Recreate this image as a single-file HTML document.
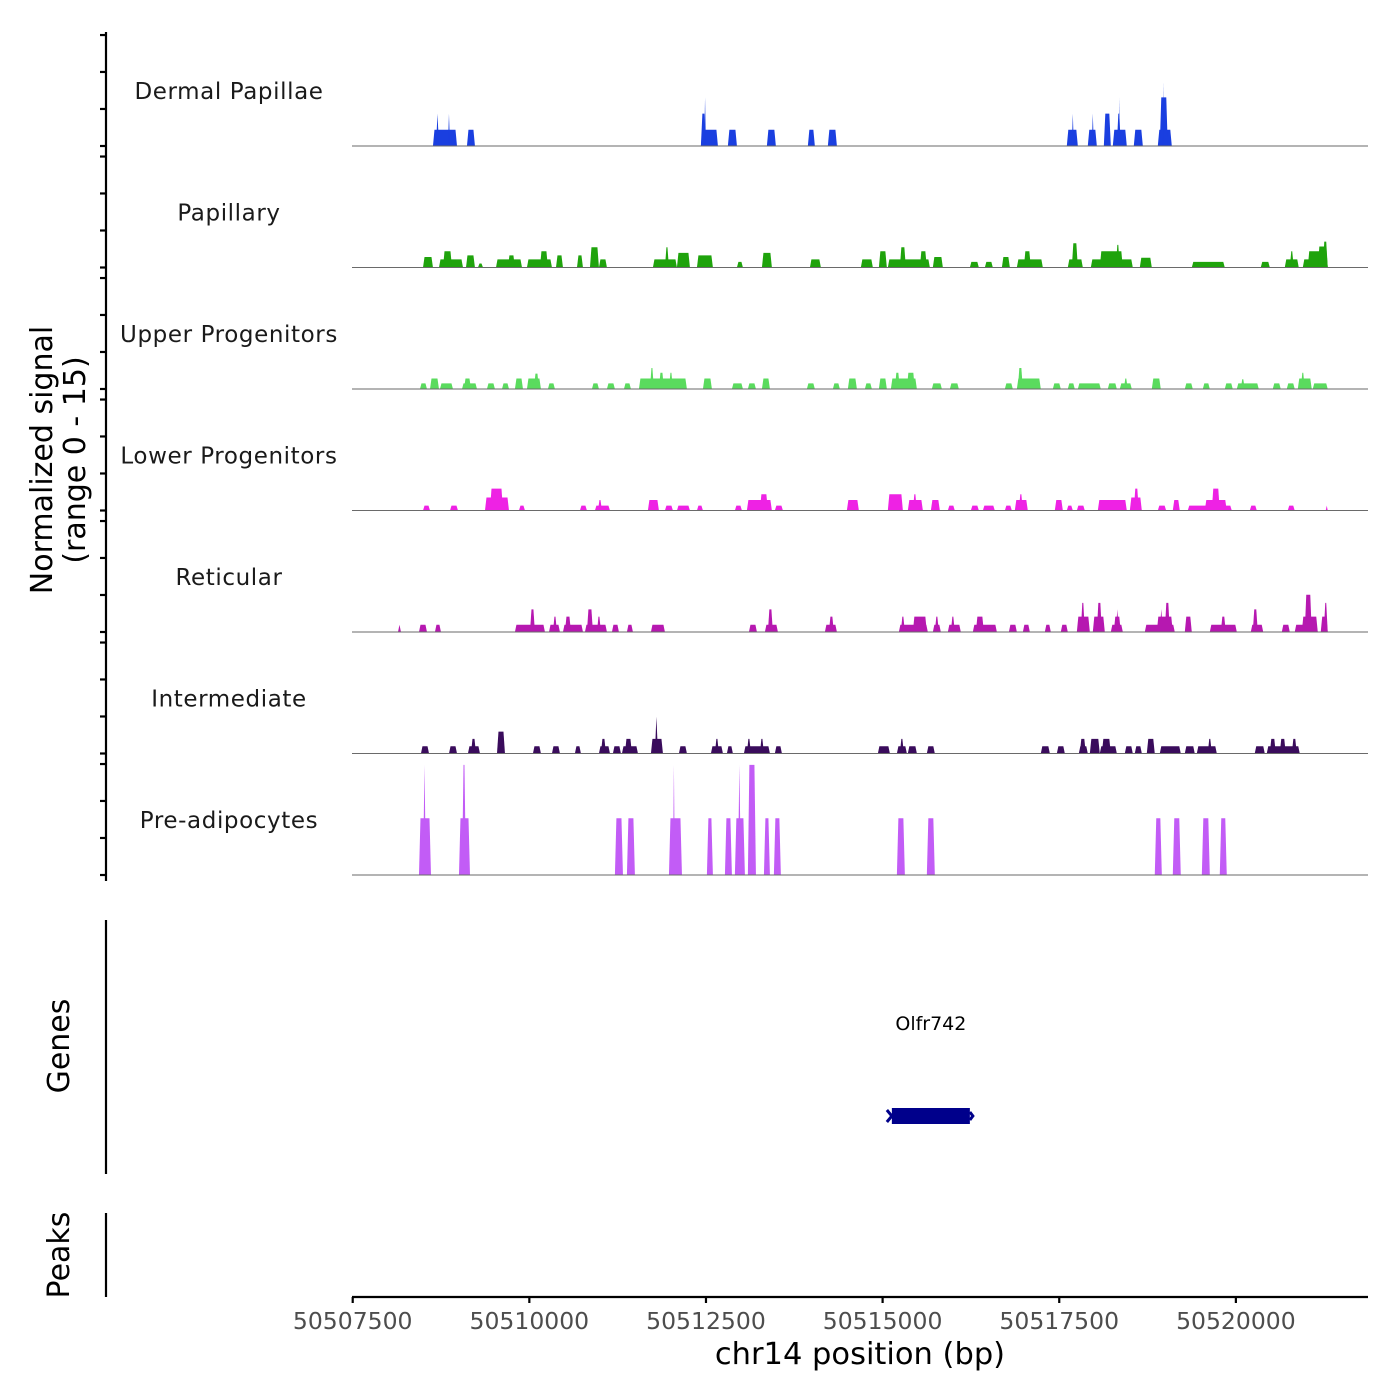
<!DOCTYPE html>
<html><head><meta charset="utf-8"><style>
html,body{margin:0;padding:0;background:#fff;}
svg{display:block;font-family:"DejaVu Sans","Liberation Sans",sans-serif;}
</style></head><body>
<svg id="chart" width="1400" height="1400" viewBox="0 0 1400 1400" xmlns="http://www.w3.org/2000/svg">
<g id="tracks"></g>
<g id="axes"></g>
<g id="genes"></g>
</svg>
<script>
// ---- data: region start (bp) and per-track signal segments [startOffsetBp, endOffsetBp, normalizedSignal]
const regionStart = 50507490;
const regionEnd = 50521870;
const trackNames = ["Dermal Papillae","Papillary","Upper Progenitors","Lower Progenitors","Reticular","Intermediate","Pre-adipocytes"];
const trackColors = ["#1a3fe0","#1fa30c","#5adb5e","#ee22e4","#b618b0","#3a0c5c","#c25cf6"];
const xTickValues = [50507500,50510000,50512500,50515000,50517500,50520000];
const xTickLabels = ["50507500","50510000","50512500","50515000","50517500","50520000"];
const yTickValues = [0,4.57,9.14,13.7];
const geneNames = ["Olfr742"];
const geneStarts = [50515131];
const geneEnds = [50516235];
const signalMax = 15;

const dermalPapillae = [[1146,1486,2],[1189,1231,4],[1358,1387,4],[1627,1740,2],[4938,5179,2],[4938,5009,4],[4985,5009,6],[5320,5448,2],[5872,5999,2],[6452,6551,2],[6735,6863,2],[10117,10273,2],[10188,10216,4],[10414,10542,2],[10471,10499,4],[10641,10740,4],[10768,10966,2],[10825,10881,4],[10853,10867,6],[11065,11193,2],[11405,11603,2],[11433,11546,6],[11476,11490,8]];
const papillary = [[1005,1146,1.3],[1231,1571,1],[1288,1415,2],[1613,1740,1.5],[1783,1854,0.5],[2038,2406,1],[2207,2306,1.5],[2476,2830,1],[2660,2773,2],[2887,2986,1.5],[3184,3269,1.5],[3368,3495,2.5],[3495,3608,1],[4259,4599,1],[4429,4486,2.5],[4599,4783,1.8],[4882,5108,1.5],[5448,5533,0.7],[5802,5943,1.8],[6481,6636,1],[7202,7372,1],[7457,7570,2],[7584,8179,1],[7754,7839,2.5],[8037,8136,2],[8221,8363,1.3],[8745,8872,0.7],[8957,9070,0.7],[9198,9311,1.3],[9410,9778,1],[9509,9608,2],[10131,10344,1],[10188,10273,3],[10457,11051,1],[10584,10910,2],[10811,10867,2.8],[11150,11320,1.2],[11886,12353,0.7],[12862,12990,0.7],[13202,13400,1],[13273,13329,2],[13457,13810,1],[13527,13810,2],[13670,13810,2.6],[13740,13810,3.2]];
const upperProgenitors = [[962,1061,0.7],[1104,1231,1.3],[1245,1429,0.7],[1557,1769,0.7],[1585,1684,1.3],[1910,2023,0.7],[2123,2222,0.7],[2306,2420,1.3],[2476,2674,1.3],[2575,2646,1.9],[2773,2872,0.7],[3396,3495,0.7],[3608,3721,0.7],[3849,3948,0.7],[4061,4740,1.3],[4217,4273,2.6],[4344,4415,2],[4486,4542,2],[4967,5094,1.3],[5377,5533,0.7],[5603,5717,0.7],[5802,5915,1.3],[6438,6551,0.7],[6806,6905,0.7],[7018,7146,1.3],[7259,7358,0.7],[7457,7570,1.3],[7627,7995,1.3],[7683,7754,2],[7853,7966,2],[8207,8349,0.7],[8462,8589,0.7],[9240,9353,0.7],[9410,9749,1.3],[9424,9495,2.6],[9919,10032,0.7],[10131,10230,0.7],[10273,10598,0.7],[10697,10825,0.7],[10867,11037,0.7],[10924,10980,1.3],[11320,11447,1.3],[11787,11900,0.7],[12042,12141,0.7],[12353,12466,0.7],[12523,12834,0.7],[12579,12636,1.2],[13032,13145,0.7],[13230,13343,0.7],[13386,13584,1.3],[13429,13485,2],[13598,13810,0.7]];
const lowerProgenitors = [[1005,1104,0.6],[1387,1500,0.6],[1882,2222,1.6],[1953,2137,2.7],[2363,2448,0.6],[3226,3325,0.6],[3438,3651,0.6],[3481,3538,1.3],[4188,4344,1.3],[4429,4542,0.6],[4599,4783,0.6],[4882,4967,0.6],[5419,5519,0.6],[5589,5943,1.3],[5773,5886,2],[5985,6099,0.6],[7004,7174,1.3],[7584,7797,2],[7867,8080,1.3],[7938,7995,2],[8193,8320,1.3],[8433,8532,0.6],[8759,8872,0.6],[8929,9098,0.6],[9240,9339,0.6],[9381,9565,1.3],[9438,9495,2],[9947,10061,1.3],[10117,10202,0.6],[10259,10372,0.6],[10556,10966,1.3],[11009,11179,1.6],[11065,11136,2.7],[11405,11523,0.6],[11617,11716,1.3],[11829,12452,0.6],[12070,12381,1.3],[12169,12282,2.7],[12707,12806,0.6],[13244,13343,0.6],[13782,13810,0.6]];
const reticular = [[651,693,0.9],[948,1061,0.9],[1174,1259,0.9],[2306,2731,0.9],[2519,2589,2.8],[2788,2943,0.9],[2844,2901,1.9],[2986,3269,0.9],[3014,3099,1.9],[3297,3608,0.9],[3325,3410,2.8],[3467,3523,1.9],[3679,3778,0.9],[3891,3976,0.9],[4231,4429,0.9],[5618,5731,0.9],[5844,6028,0.9],[5886,5957,2.8],[6693,6863,0.9],[6750,6820,1.9],[7740,8150,0.9],[7768,7825,1.9],[7938,8136,1.9],[8221,8334,0.9],[8249,8306,1.9],[8433,8617,0.9],[8476,8532,1.9],[8787,9127,0.9],[8830,8943,1.9],[9297,9410,0.9],[9495,9594,0.9],[9806,9891,0.9],[10032,10131,0.9],[10259,10443,1.9],[10315,10372,3.6],[10485,10655,1.9],[10542,10613,3.6],[10740,10910,0.9],[10782,10881,1.9],[10811,10853,2.8],[11221,11645,0.9],[11391,11617,1.9],[11433,11476,2.8],[11504,11575,3.6],[11787,11886,1.9],[12141,12523,0.9],[12297,12367,1.9],[12721,12897,0.9],[12749,12820,2.8],[13160,13273,0.9],[13343,13669,0.9],[13443,13669,1.9],[13485,13584,4.6],[13711,13810,1.9],[13754,13810,3.6]];
const intermediate = [[976,1090,0.9],[1373,1486,0.9],[1641,1811,0.9],[1684,1755,1.8],[2052,2165,2.7],[2561,2674,0.9],[2830,2943,0.9],[3155,3240,0.9],[3495,3651,0.9],[3523,3594,1.8],[3693,3806,0.9],[3821,4047,0.9],[3863,3962,1.8],[4231,4401,1.8],[4287,4330,4.5],[4627,4740,0.9],[5080,5250,0.9],[5136,5193,1.8],[5306,5391,0.9],[5547,5915,0.9],[5589,5646,1.8],[5773,5830,1.8],[5985,6085,0.9],[7443,7613,0.9],[7712,7853,0.9],[7754,7811,1.8],[7867,7995,0.9],[8136,8249,0.9],[9749,9877,0.9],[9976,10089,0.9],[10287,10414,0.9],[10301,10386,1.8],[10443,10584,1.8],[10584,10825,0.9],[10613,10740,1.8],[10938,11051,0.9],[11079,11179,0.9],[11249,11362,1.8],[11433,11730,0.9],[11787,11928,0.9],[11957,12240,0.9],[12112,12169,1.8],[12777,12919,0.9],[12947,13414,0.9],[12990,13075,1.8],[13131,13216,1.8],[13302,13372,1.8]];
const preAdipocytes = [[948,1118,7],[1005,1047,13.6],[1514,1670,7],[1557,1613,13.6],[3721,3835,7],[3891,4004,7],[4486,4670,7],[4542,4570,13.6],[5023,5108,7],[5278,5377,7],[5419,5561,7],[5462,5504,13.6],[5603,5717,13.6],[5830,5915,7],[5971,6070,7],[7712,7825,7],[8136,8249,7],[11362,11462,7],[11617,11730,7],[12028,12141,7],[12282,12381,7]];
const trackData = [dermalPapillae,papillary,upperProgenitors,lowerProgenitors,reticular,intermediate,preAdipocytes];

// ---- layout
const NS = "http://www.w3.org/2000/svg";
const plotLeft = 352, plotRight = 1368;
const firstBaseline = 146, trackHeight = 121.5;
function xScale(bp){ return plotLeft + (bp - regionStart) / (regionEnd - regionStart) * (plotRight - plotLeft); }
function yScale(v, i){ return firstBaseline + i*trackHeight - v / signalMax * trackHeight; }
function mk(tag, attrs, parent){ const e = document.createElementNS(NS, tag); for (const k in attrs) e.setAttribute(k, attrs[k]); parent.appendChild(e); return e; }

const tracksG = document.getElementById('tracks');
trackData.forEach((segs, i) => {
  const g = mk('g', {}, tracksG);
  
  
  const base = yScale(0, i);
  segs.forEach((s) => {
    const x0 = xScale(regionStart + s[0]), x1 = xScale(regionStart + s[1]);
    const top = yScale(s[2], i);
    const inset = Math.min(1.5, (x1 - x0) / 2);
    const p = mk('polygon', {points: `${x0},${base} ${x0+inset},${top} ${x1-inset},${top} ${x1},${base}`, fill: trackColors[i]}, g);
    
    
  });
  const bl = mk('line', {x1: plotLeft, x2: plotRight, y1: base, y2: base, stroke: '#6a6a6a', 'stroke-width': 1}, g);
  
  
  const lab = mk('text', {x: 229, y: base - 47, 'text-anchor': 'middle', 'font-size': 23, fill: '#1a1a1a', 'letter-spacing': '0.6'}, g);
  lab.textContent = trackNames[i];
  
  
});

// ---- axes
const axesG = document.getElementById('axes');
const ya = mk('line', {x1: 106, x2: 106, y1: 32, y2: 881, stroke: '#000', 'stroke-width': 2.2}, axesG);


for (let i = 0; i < trackNames.length; i++) {
  yTickValues.forEach((v) => {
    const y = yScale(v, i);
    const t = mk('line', {x1: 100, x2: 106, y1: y, y2: y, stroke: '#000', 'stroke-width': 2.2}, axesG);
    
    
  });
}
const yt = mk('text', {transform: 'translate(52,460) rotate(-90)', 'text-anchor': 'middle', 'font-size': 30, fill: '#000'}, axesG);


const yt1 = mk('tspan', {x: 0, dy: 0}, yt); yt1.textContent = 'Normalized signal';
const yt2 = mk('tspan', {x: 0, dy: 33}, yt); yt2.textContent = '(range 0 - 15)';

const ga = mk('line', {x1: 106, x2: 106, y1: 920, y2: 1174, stroke: '#000', 'stroke-width': 2.2}, axesG);


const gt = mk('text', {transform: 'translate(69,1046) rotate(-90)', 'text-anchor': 'middle', 'font-size': 30, fill: '#000'}, axesG);
gt.textContent = 'Genes';


const pa = mk('line', {x1: 106, x2: 106, y1: 1213, y2: 1297, stroke: '#000', 'stroke-width': 2.2}, axesG);


const pt = mk('text', {transform: 'translate(69,1255) rotate(-90)', 'text-anchor': 'middle', 'font-size': 30, fill: '#000'}, axesG);
pt.textContent = 'Peaks';



const xa = mk('line', {x1: plotLeft, x2: plotRight, y1: 1297, y2: 1297, stroke: '#000', 'stroke-width': 2.2}, axesG);


xTickValues.forEach((v, j) => {
  const x = xScale(v);
  const t = mk('line', {x1: x, x2: x, y1: 1297, y2: 1303, stroke: '#000', 'stroke-width': 2.2}, axesG);
  
  
  const l = mk('text', {x: x, y: 1329, 'text-anchor': 'middle', 'font-size': 23.5, fill: '#4d4d4d'}, axesG);
  l.textContent = xTickLabels[j];
  
  
});
const xt = mk('text', {x: 860, y: 1364, 'text-anchor': 'middle', 'font-size': 30.5, fill: '#000'}, axesG);
xt.textContent = 'chr14 position (bp)';



// ---- genes
const genesG = document.getElementById('genes');
geneNames.forEach((name, j) => {
  const x0 = xScale(geneStarts[j]), x1 = xScale(geneEnds[j]);
  const r = mk('rect', {x: x0, y: 1108, width: x1 - x0, height: 16, fill: '#00008b'}, genesG);
  
  
  const a = mk('path', {d: `M${x0-5},1110 L${x0},1116 L${x0-5},1122 M${x1},1112 L${x1+3},1116 L${x1},1120`, stroke: '#00008b', 'stroke-width': 3, fill: 'none'}, genesG);
  
  
  const t = mk('text', {x: (x0 + x1) / 2, y: 1030, 'text-anchor': 'middle', 'font-size': 19, fill: '#000'}, genesG);
  t.textContent = name;
  
  
});
</script>
</body></html>
